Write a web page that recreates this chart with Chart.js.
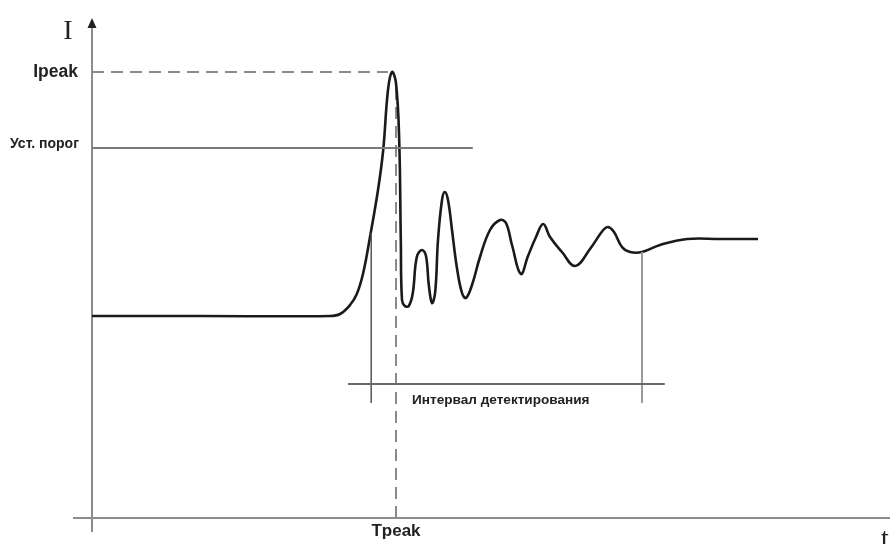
<!DOCTYPE html>
<html>
<head>
<meta charset="utf-8">
<script src="https://cdn.jsdelivr.net/npm/chart.js@4.4.0/dist/chart.umd.min.js"></script>
<style>
  html, body { margin: 0; padding: 0; background: #fff; }
  #wrap { width: 890px; height: 544px; position: relative; }
</style>
</head>
<body>
<div id="wrap"><canvas id="pulseChart"></canvas></div>
<script>
// ===== DATA =====
// time (arbitrary units) and current I of the signal
const tValues = [0, 13.5, 29.75, 31, 32.25, 33.1, 33.9, 34.75, 35.75, 36.4,
  37, 37.5, 38, 38.4, 38.6, 38.75, 39.1, 39.6, 40.1, 40.6,
  41.25, 41.75, 42.1, 42.5, 42.9, 43.25, 43.75, 44.1, 44.5, 45,
  45.6, 46.25, 46.75, 47.5, 48.5, 49.75, 51, 51.75, 52.5, 53.6,
  54.5, 55.5, 56.4, 57.25, 58.75, 60.4, 62.25, 63.9, 64.5, 65.25,
  66.25, 67.25, 68.75, 71, 74.4, 78.5, 83.25];
const iValues = [40.4, 40.4, 40.4, 40.8, 42.6, 44.8, 49, 56.2, 65.6, 73.6,
  85.6, 89.2, 87, 75.6, 55.6, 43.6, 42.4, 42.4, 45, 52.2,
  53.6, 52.4, 46.6, 43, 45.2, 55.6, 63.6, 65.2, 63.6, 57.6,
  50.2, 45, 44, 46.6, 52.2, 57.6, 59.6, 59, 54.6, 48.8,
  52.4, 56.2, 58.8, 56.2, 53.2, 50.4, 53.8, 57.6, 58.2, 57.2,
  54.2, 53.2, 53.2, 54.6, 55.8, 55.8, 55.8];

// reference levels
const I_PEAK = 89.2;
const T_PEAK = 38;
const THRESHOLD = 74;
const thresholdSpan = [0, 47.6];        // t from / to
const ipeakSpan = [0, 37];
const tPeakSpan = [0, 87];              // I from / to
const intervalLevel = 26.8;
const intervalSpan = [32, 71.6];
const startMarker = [34.9, 23, 57];      // t, I from, I to
const endMarker = [68.75, 23, 53.2];

const labels = {
  yAxis: 'I', xAxis: 't',
  ipeak: 'Ipeak', threshold: 'Уст. порог',
  tpeak: 'Tpeak', interval: 'Интервал детектирования'
};

const seg = (x0, y0, x1, y1) => [{ x: x0, y: y0 }, { x: x1, y: y1 }];

// ===== AXES + TEXT PLUGIN =====
const diagramPlugin = {
  id: 'diagram',
  beforeDatasetsDraw(chart) {
    const { ctx, scales: { x, y }, chartArea } = chart;
    const x0 = x.getPixelForValue(0);
    const y0 = y.getPixelForValue(0);
    ctx.save();
    ctx.strokeStyle = '#8c8c8c';
    ctx.lineWidth = 2;
    ctx.beginPath();
    ctx.moveTo(x0, y0 + 14);
    ctx.lineTo(x0, chartArea.top + 6);
    ctx.moveTo(x0 - 19, y0);
    ctx.lineTo(chartArea.right + 2, y0);
    ctx.stroke();
    // arrow
    ctx.fillStyle = '#222';
    ctx.beginPath();
    ctx.moveTo(x0, chartArea.top);
    ctx.lineTo(x0 - 4.5, chartArea.top + 10);
    ctx.lineTo(x0 + 4.5, chartArea.top + 10);
    ctx.closePath();
    ctx.fill();
    ctx.restore();
  },
  afterDraw(chart) {
    const { ctx, scales: { x, y } } = chart;
    const x0 = x.getPixelForValue(0);
    ctx.save();
    ctx.fillStyle = '#222';
    ctx.textBaseline = 'middle';

    ctx.font = '28px "Liberation Serif", serif';
    ctx.textAlign = 'center';
    ctx.fillText(labels.yAxis, x0 - 24, 32);
    ctx.fillText(labels.xAxis, 885, 540);

    ctx.font = 'bold 17.5px "Liberation Sans", Arial, sans-serif';
    ctx.textAlign = 'right';
    ctx.fillText(labels.ipeak, x0 - 14, y.getPixelForValue(I_PEAK));
    ctx.font = 'bold 14px "Liberation Sans", Arial, sans-serif';
    ctx.fillText(labels.threshold, x0 - 13, y.getPixelForValue(THRESHOLD) - 4);

    ctx.font = 'bold 17px "Liberation Sans", Arial, sans-serif';
    ctx.textAlign = 'center';
    ctx.fillText(labels.tpeak, x.getPixelForValue(T_PEAK), 531);

    ctx.font = 'bold 13.6px "Liberation Sans", Arial, sans-serif';
    ctx.textAlign = 'left';
    ctx.fillText(labels.interval, x.getPixelForValue(40), y.getPixelForValue(intervalLevel) + 16);
    ctx.restore();
  }
};

// ===== CHART =====
document.addEventListener('DOMContentLoaded', () => {
  const line = (data, color, width, dash) => ({
    data, borderColor: color, borderWidth: width, borderDash: dash || [],
    pointRadius: 0, fill: false, tension: 0
  });

  new Chart(document.getElementById('pulseChart'), {
    type: 'line',
    data: {
      datasets: [
        line(seg(thresholdSpan[0], THRESHOLD, thresholdSpan[1], THRESHOLD), '#7a7a7a', 2),
        line(seg(ipeakSpan[0], I_PEAK, ipeakSpan[1], I_PEAK), '#8a8a8a', 2, [12, 7]),
        line(seg(intervalSpan[0], intervalLevel, intervalSpan[1], intervalLevel), '#6a6a6a', 2),
        line(seg(startMarker[0], startMarker[1], startMarker[0], startMarker[2]), '#555', 1.5),
        line(seg(endMarker[0], endMarker[1], endMarker[0], endMarker[2]), '#999', 2),
        {
          data: tValues.map((t, i) => ({ x: t, y: iValues[i] })),
          borderColor: '#1a1a1a', borderWidth: 2.6, pointRadius: 0,
          fill: false, tension: 0.4
        },
        line(seg(T_PEAK, tPeakSpan[0], T_PEAK, tPeakSpan[1]), '#8a8a8a', 2, [12, 7])
      ]
    },
    options: {
      responsive: true,
      maintainAspectRatio: false,
      animation: false,
      layout: { padding: { left: 92, right: 0, top: 18, bottom: 26 } },
      plugins: { legend: { display: false }, tooltip: { enabled: false } },
      scales: {
        x: { type: 'linear', min: 0, max: 99.75, display: false },
        y: { type: 'linear', min: 0, max: 100, display: false }
      }
    },
    plugins: [diagramPlugin]
  });
});
</script>
</body>
</html>
